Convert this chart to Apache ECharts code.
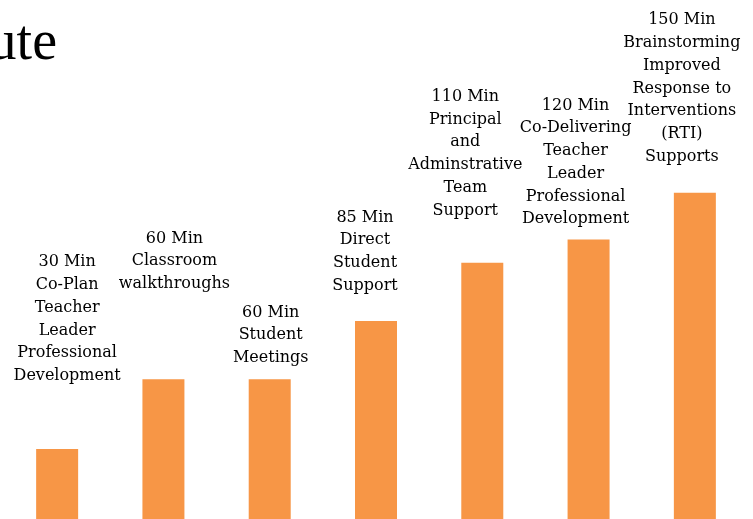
<!DOCTYPE html>
<html>
<head>
<meta charset="utf-8">
<script src="https://cdn.jsdelivr.net/npm/echarts@6/dist/echarts.min.js"></script>
<style>html,body{margin:0;padding:0;background:#fff}#c{width:753px;height:519px}</style>
</head>
<body>
<div id="c"></div>
<script>
// ---- data ----
var categories = [
  "30 Min\nCo-Plan\nTeacher\nLeader\nProfessional\nDevelopment",
  "60 Min\nClassroom\nwalkthroughs",
  "60 Min\nStudent\nMeetings",
  "85 Min\nDirect\nStudent\nSupport",
  "110 Min\nPrincipal\nand\nAdminstrative\nTeam\nSupport",
  "120 Min\nCo-Delivering\nTeacher\nLeader\nProfessional\nDevelopment",
  "150 Min\nBrainstorming\nImproved\nResponse to\nInterventions\n(RTI)\nSupports"
];
var minutes = [30, 60, 60, 85, 110, 120, 140];
var titleText = "ute";

// ---- layout (label placement) ----
var labelDx = [10, 11, 1, -11, -17, -13, -13];
var labelGap = [62, 84, 10, 24, 41, 9, 25];

var chart = echarts.init(document.getElementById('c'));
chart.setOption({
  animation: false,
  backgroundColor: '#fff',
  graphic: [{
    type: 'text', right: 753 - 57, top: 16,
    style: { text: titleText, font: '56px "Liberation Serif"', fill: '#000', textAlign: 'right' }
  }],
  grid: { left: 4, right: 5, top: 53, bottom: 0 },
  xAxis: {
    type: 'category', data: categories,
    axisLine: { show: false }, axisTick: { show: false }, axisLabel: { show: false }
  },
  yAxis: { type: 'value', min: 0, max: 200, show: false, splitLine: { show: false } },
  series: [{
    type: 'bar',
    barWidth: 42,
    itemStyle: { color: '#F79646' },
    data: minutes.map(function (v, i) {
      return {
        value: v,
        label: {
          show: true, position: 'top', distance: 0,
          offset: [labelDx[i], -labelGap[i]],
          formatter: function () { return categories[i]; },
          fontFamily: 'DejaVu Serif', fontSize: 16, lineHeight: 22.7,
          color: '#000', align: 'center'
        }
      };
    })
  }]
});
</script>
</body>
</html>
